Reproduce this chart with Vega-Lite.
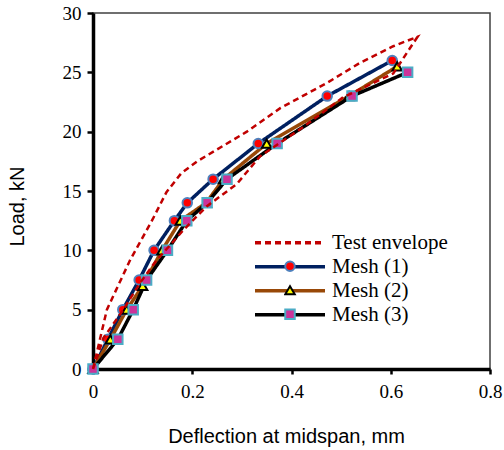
{
  "$schema": "https://vega.github.io/schema/vega-lite/v6.json",
  "width": 397,
  "height": 356,
  "autosize": {"type": "none"},
  "padding": {"left": 93, "top": 13, "right": 14, "bottom": 81},
  "background": "white",
  "config": {
    "view": {"stroke": "#404040", "strokeWidth": 1.5},
    "axis": {"grid": false}
  },
  "datasets": {
    "env": [
      {"i": 0, "series": "Test envelope", "x": 0, "y": 0},
      {"i": 1, "series": "Test envelope", "x": 0.028, "y": 5},
      {"i": 2, "series": "Test envelope", "x": 0.075, "y": 9.2},
      {"i": 3, "series": "Test envelope", "x": 0.12, "y": 12.6},
      {"i": 4, "series": "Test envelope", "x": 0.148, "y": 14.9},
      {"i": 5, "series": "Test envelope", "x": 0.178, "y": 16.5},
      {"i": 6, "series": "Test envelope", "x": 0.21, "y": 17.5},
      {"i": 7, "series": "Test envelope", "x": 0.31, "y": 20},
      {"i": 8, "series": "Test envelope", "x": 0.378, "y": 22},
      {"i": 9, "series": "Test envelope", "x": 0.471, "y": 24.1},
      {"i": 10, "series": "Test envelope", "x": 0.538, "y": 25.8},
      {"i": 11, "series": "Test envelope", "x": 0.605, "y": 27.2},
      {"i": 12, "series": "Test envelope", "x": 0.654, "y": 28},
      {"i": 13, "series": "Test envelope", "x": 0.605, "y": 24.9},
      {"i": 14, "series": "Test envelope", "x": 0.504, "y": 22.9},
      {"i": 15, "series": "Test envelope", "x": 0.424, "y": 20.4},
      {"i": 16, "series": "Test envelope", "x": 0.336, "y": 17.9},
      {"i": 17, "series": "Test envelope", "x": 0.29, "y": 15.6},
      {"i": 18, "series": "Test envelope", "x": 0.229, "y": 13.7},
      {"i": 19, "series": "Test envelope", "x": 0.182, "y": 11.7},
      {"i": 20, "series": "Test envelope", "x": 0.125, "y": 9},
      {"i": 21, "series": "Test envelope", "x": 0.094, "y": 7.2},
      {"i": 22, "series": "Test envelope", "x": 0.061, "y": 5},
      {"i": 23, "series": "Test envelope", "x": 0.021, "y": 2.6},
      {"i": 24, "series": "Test envelope", "x": 0, "y": 0}
    ],
    "mesh": [
      {"series": "Mesh (1)", "x": 0, "y": 0},
      {"series": "Mesh (1)", "x": 0.03, "y": 2.5},
      {"series": "Mesh (1)", "x": 0.06, "y": 5},
      {"series": "Mesh (1)", "x": 0.093, "y": 7.5},
      {"series": "Mesh (1)", "x": 0.123, "y": 10},
      {"series": "Mesh (1)", "x": 0.164, "y": 12.5},
      {"series": "Mesh (1)", "x": 0.19, "y": 14},
      {"series": "Mesh (1)", "x": 0.242, "y": 16},
      {"series": "Mesh (1)", "x": 0.333, "y": 19},
      {"series": "Mesh (1)", "x": 0.472, "y": 23},
      {"series": "Mesh (1)", "x": 0.603, "y": 26},
      {"series": "Mesh (2)", "x": 0, "y": 0},
      {"series": "Mesh (2)", "x": 0.035, "y": 2.5},
      {"series": "Mesh (2)", "x": 0.068, "y": 5},
      {"series": "Mesh (2)", "x": 0.1, "y": 7},
      {"series": "Mesh (2)", "x": 0.139, "y": 10},
      {"series": "Mesh (2)", "x": 0.176, "y": 12.5},
      {"series": "Mesh (2)", "x": 0.228, "y": 14},
      {"series": "Mesh (2)", "x": 0.263, "y": 16},
      {"series": "Mesh (2)", "x": 0.35, "y": 19},
      {"series": "Mesh (2)", "x": 0.516, "y": 23},
      {"series": "Mesh (2)", "x": 0.613, "y": 25.5},
      {"series": "Mesh (3)", "x": 0, "y": 0},
      {"series": "Mesh (3)", "x": 0.05, "y": 2.5},
      {"series": "Mesh (3)", "x": 0.081, "y": 5},
      {"series": "Mesh (3)", "x": 0.108, "y": 7.5},
      {"series": "Mesh (3)", "x": 0.15, "y": 10},
      {"series": "Mesh (3)", "x": 0.189, "y": 12.5},
      {"series": "Mesh (3)", "x": 0.23, "y": 14},
      {"series": "Mesh (3)", "x": 0.27, "y": 16},
      {"series": "Mesh (3)", "x": 0.371, "y": 19},
      {"series": "Mesh (3)", "x": 0.522, "y": 23},
      {"series": "Mesh (3)", "x": 0.634, "y": 25}
    ]
  },
  "encoding": {
    "x": {
      "field": "x", "type": "quantitative",
      "scale": {"domain": [0, 0.8], "nice": false, "zero": false},
      "axis": {
        "title": "Deflection at midspan, mm",
        "values": [0, 0.2, 0.4, 0.6, 0.8], "format": "~g", "labelFlush": false,
        "domainColor": "black", "domainWidth": 3.5, "tickColor": "black", "tickWidth": 2.5, "tickSize": 5,
        "labelFont": "Liberation Serif", "labelFontSize": 19, "labelColor": "black", "labelPadding": 8,
        "titleFont": "Liberation Sans", "titleFontSize": 20, "titleFontWeight": "normal", "titleColor": "black",
        "titleBaseline": "middle", "titleAlign": "center", "titleX": 193, "titleY": 67
      }
    },
    "y": {
      "field": "y", "type": "quantitative",
      "scale": {"domain": [0, 30], "nice": false},
      "axis": {
        "title": "Load, kN",
        "values": [0, 5, 10, 15, 20, 25, 30], "labelFlush": false,
        "domainColor": "black", "domainWidth": 3.5, "tickColor": "black", "tickWidth": 2.5, "tickSize": 6,
        "labelFont": "Liberation Serif", "labelFontSize": 19, "labelColor": "black", "labelPadding": 6,
        "titleFont": "Liberation Sans", "titleFontSize": 20, "titleFontWeight": "normal", "titleColor": "black",
        "titleBaseline": "middle", "titleAlign": "center", "titleX": -76, "titleY": 193
      }
    }
  },
  "layer": [
    {
      "data": {"name": "mesh"},
      "mark": {"type": "line", "strokeWidth": 3.5},
      "encoding": {
        "order": {"field": "x", "type": "quantitative"},
        "color": {
          "field": "series", "type": "nominal",
          "scale": {"domain": ["Test envelope", "Mesh (1)", "Mesh (2)", "Mesh (3)"], "range": ["#c00000", "#002060", "#984807", "#000000"]},
          "legend": {
            "title": null, "orient": "none", "legendX": 160, "legendY": 218,
            "symbolType": "stroke", "symbolSize": 4900, "symbolStrokeWidth": 3.5,
            "clipHeight": 23.5, "rowPadding": 0, "padding": 0,
            "labelFont": "Liberation Serif", "labelFontSize": 21, "labelColor": "black", "labelOffset": 5
          }
        },
        "strokeDash": {
          "field": "series", "type": "nominal",
          "scale": {"domain": ["Test envelope", "Mesh (1)", "Mesh (2)", "Mesh (3)"], "range": [[6, 4], [1, 0], [1, 0], [1, 0]]},
          "legend": {
            "title": null, "orient": "none", "legendX": 160, "legendY": 218,
            "symbolType": "stroke", "symbolSize": 4900, "symbolStrokeWidth": 3.5,
            "clipHeight": 23.5, "rowPadding": 0, "padding": 0,
            "labelFont": "Liberation Serif", "labelFontSize": 21, "labelColor": "black", "labelOffset": 5
          }
        }
      }
    },
    {
      "data": {"name": "mesh"},
      "mark": {"type": "point", "filled": true, "opacity": 1, "strokeOpacity": 1, "fillOpacity": 1},
      "encoding": {
        "shape": {
          "field": "series", "type": "nominal",
          "scale": {"domain": ["Mesh (1)", "Mesh (2)", "Mesh (3)"], "range": ["circle", "triangle-up", "square"]},
          "legend": {
            "title": null, "orient": "none", "legendX": 191, "legendY": 241.5,
            "clipHeight": 23.5, "rowPadding": 0, "padding": 0,
            "labelExpr": "''", "labelOpacity": 0, "symbolStrokeWidth": 2, "symbolSize": 90, "symbolOpacity": 1
          }
        },
        "fill": {
          "field": "series", "type": "nominal",
          "scale": {"domain": ["Mesh (1)", "Mesh (2)", "Mesh (3)"], "range": ["#ff0000", "#ffff00", "#cc3399"]},
          "legend": {
            "title": null, "orient": "none", "legendX": 191, "legendY": 241.5,
            "clipHeight": 23.5, "rowPadding": 0, "padding": 0,
            "labelExpr": "''", "labelOpacity": 0, "symbolStrokeWidth": 2, "symbolSize": 90, "symbolOpacity": 1
          }
        },
        "stroke": {
          "field": "series", "type": "nominal",
          "scale": {"domain": ["Mesh (1)", "Mesh (2)", "Mesh (3)"], "range": ["#4f81bd", "#000000", "#4bacc6"]},
          "legend": {
            "title": null, "orient": "none", "legendX": 191, "legendY": 241.5,
            "clipHeight": 23.5, "rowPadding": 0, "padding": 0,
            "labelExpr": "''", "labelOpacity": 0, "symbolStrokeWidth": 2, "symbolSize": 90, "symbolOpacity": 1
          }
        },
        "size": {"value": 90},
        "strokeWidth": {"value": 2}
      }
    },
    {
      "data": {"name": "env"},
      "mark": {"type": "line", "strokeWidth": 2.5},
      "encoding": {
        "order": {"field": "i", "type": "quantitative"},
        "color": {"field": "series", "type": "nominal"},
        "strokeDash": {"field": "series", "type": "nominal"}
      }
    }
  ]
}
